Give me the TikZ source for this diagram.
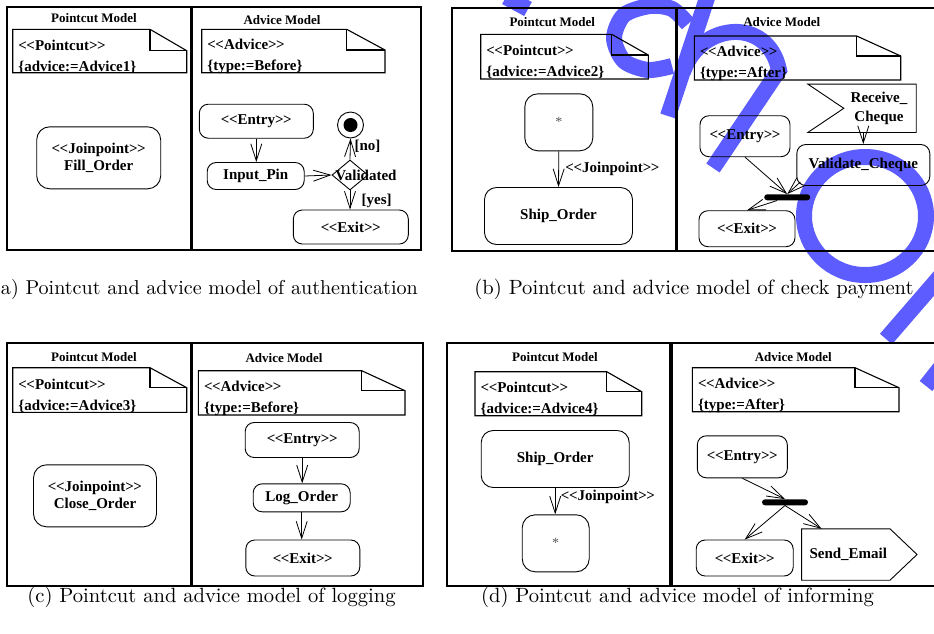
\documentclass[tikz,border=0pt]{standalone}
\usepackage{fontspec}
\newfontfamily\tfnt{Liberation Serif}
\newfontfamily\capfnt{lmroman10-regular.otf}
\usetikzlibrary{arrows.meta,shapes.geometric}
\definecolor{wm}{RGB}{92,92,255}
\newcommand\LLt{<\kern-0.5pt<}
\newcommand\GGt{>\kern-0.5pt>}
\newcommand\bodyfont{\tfnt\bfseries\fontsize{15}{17}\selectfont}
\newcommand\titlefont{\tfnt\bfseries\fontsize{13}{15}\selectfont}
\newcommand\notefont{\tfnt\bfseries\fontsize{15}{21}\selectfont}
\newcommand\capfont{\capfnt\fontsize{20.6}{24}\selectfont}
\newcommand\starfont{\tfnt\fontsize{14}{14}\selectfont\color{black!65}}
\newcommand\umlnote[8]{%
  \draw[noteline] (#2,#3) -- (#6,#3) -- (#4,#7) -- (#4,#5) -- (#2,#5) -- cycle;
  \draw[noteline] (#6,#3) -- (#6,#7) -- (#4,#7);
  \node[notetext] (#1) at ({#2+5.5},{(#3+#5)/2+5.5}) {#8};
}
\begin{document}
\begin{tikzpicture}[x=1pt,y=-1pt,
  rnode/.style={draw, line width=0.9pt, rounded corners=9pt, font=\bodyfont, align=center, inner sep=0pt},
  jnode/.style={rnode, rounded corners=13pt},
  frame/.style={draw, line width=1.5pt},
  arr/.style={line width=0.8pt, -{Straight Barb[length=17pt,width=11pt]}},
  lbl/.style={font=\bodyfont, inner sep=0pt},
  ttl/.style={font=\titlefont, inner sep=0pt},
  notetext/.style={font=\notefont, align=left, inner sep=0pt, anchor=west},
  noteline/.style={line width=1.1pt, line join=miter},
  joinbar/.style={fill=black, rounded corners=3pt, minimum width=46pt, minimum height=6pt, inner sep=0pt},
  captxt/.style={font=\capfont, inner sep=0pt},
  wmark/.style={draw=wm, line width=16pt}]
\useasboundingbox (0,0) rectangle (934,633);

% watermark (under everything)
\begin{scope}[wmark]
\draw plot[smooth] coordinates {(688,24) (672,9) (650,6) (624,15) (614,38) (624,61) (648,70) (672,66)};
\draw (709,-8) -- (668,116);
\draw (683,72) .. controls (700,22) and (768,16) .. (779,70) -- (713,168);
\draw (865,216) ellipse [x radius=61, y radius=59];
\draw (886,339) -- (950,265);
\draw (506,-3) -- (528,9);
\draw (926,386) -- (945,362);
\end{scope}

% ---------- panel (a)
\draw[frame] (7,7) rectangle (191,250);
\draw[frame] (192,7) rectangle (421,250);
\node[ttl] (ta1) at (94,18.5) {Pointcut Model};
\node[ttl] (ta2) at (282,20) {Advice Model};
\umlnote{na1}{12.7}{29.3}{186.7}{72.7}{150}{50.7}{\LLt Pointcut\GGt\\\{advice:=Advice1\}}
\umlnote{na2}{201.7}{29.3}{385}{72.7}{346.7}{50}{\LLt Advice\GGt\\\{type:=Before\}}
\node[jnode, minimum width=124pt, minimum height=62pt] (jpa) at (98.7,157.8) {\LLt Joinpoint\GGt\\Fill\_Order};
\node[rnode, minimum width=114pt, minimum height=34pt] (ena) at (256.3,121.2) {\LLt Entry\GGt};
\node[rnode, minimum width=97pt, minimum height=27pt] (pina) at (255.7,176) {Input\_Pin};
\node[rnode, minimum width=115pt, minimum height=34pt] (exa) at (350.8,227) {\LLt Exit\GGt};
\node[draw, diamond, line width=0.9pt, minimum width=36pt, minimum height=30pt, inner sep=0pt] (deca) at (350,175) {};
\node[lbl] (vala) at (366,175) {Validated};
\node[draw, circle, line width=0.9pt, minimum size=26pt, inner sep=0pt] (fina) at (350.5,125) {};
\node[circle, fill, minimum size=14pt, inner sep=0pt] (finia) at (fina.center) {};
\draw[arr] (ena.south) -- (ena.south |- pina.north);
\draw[arr] (pina.east) -- (deca.west);
\draw[arr] (deca.north) -- (fina.south);
\draw[arr] (deca.south) -- (deca.south |- exa.north);
\node[lbl] (noa) at (367.5,146.7) {[no]};
\node[lbl] (yesa) at (376.7,200.7) {[yes]};
\node[captxt, anchor=east, font=\capfnt\fontsize{20.1}{24}\selectfont] (capa) at (418,289.5) {(a) Pointcut and advice model of authentication};

% ---------- panel (b)
\draw[frame] (452,8) rectangle (676,251);
\draw[frame] (677,8) rectangle (945,251);
\node[ttl] (tb1) at (552.3,21.7) {Pointcut Model};
\node[ttl] (tb2) at (781.7,21.7) {Advice Model};
\umlnote{nb1}{480.7}{34.3}{648.3}{79}{611.7}{55}{\LLt Pointcut\GGt\\\{advice:=Advice2\}}
\umlnote{nb2}{694.3}{36}{900.7}{80}{856.7}{56}{\LLt Advice\GGt\\\{type:=After\}}
\node[jnode, minimum width=68pt, minimum height=57pt, font=\starfont] (stb) at (558.8,122.3) {*};
\node[rnode, rounded corners=12pt, minimum width=148pt, minimum height=57pt] (shb) at (558.5,216) {Ship\_Order};
\draw[arr] (stb.south) -- (shb.north);
\node[lbl] (jlb) at (612.5,169.3) {\LLt Joinpoint\GGt};
\node[rnode, minimum width=90pt, minimum height=41pt] (enb) at (745,136.2) {\LLt Entry\GGt};
\node[rnode, minimum width=133pt, minimum height=41pt] (vcb) at (863.3,165) {Validate\_Cheque};
\node[font=\tfnt\bfseries\fontsize{15}{18.3}\selectfont, align=center, inner sep=0pt, minimum width=74pt, minimum height=48pt] (rcb) at (879,108.3) {Receive\_\\Cheque};
\draw[line width=0.9pt] ([xshift=-34pt]rcb.north west) -- (rcb.north east) -- (rcb.south east) -- ([xshift=-34pt]rcb.south west) -- ([xshift=2pt]rcb.west) -- cycle;
\draw[arr] (vcb.north |- rcb.south) -- (vcb.north);
\node[joinbar] (barb) at (787.2,197.3) {};
\draw[arr] (enb.south) -- (barb.north);
\draw[arr] ([xshift=4pt,yshift=4pt]vcb.south west) -- (barb.north);
\node[rnode, minimum width=96pt, minimum height=36pt] (exb) at (747,228.7) {\LLt Exit\GGt};
\draw[arr] ([xshift=-10pt]barb.south) -- (exb.north);
\node[captxt] (capb) at (694,289.5) {(b) Pointcut and advice model of check payment};

% ---------- panel (c)
\draw[frame] (7,343) rectangle (191,586);
\draw[frame] (192,343) rectangle (423,586);
\node[ttl] (tc1) at (94,356.7) {Pointcut Model};
\node[ttl] (tc2) at (284,358.3) {Advice Model};
\umlnote{nc1}{12.7}{367.7}{186.7}{412.3}{150}{387.7}{\LLt Pointcut\GGt\\\{advice:=Advice3\}}
\umlnote{nc2}{198.3}{370.7}{405}{415}{361.7}{390.7}{\LLt Advice\GGt\\\{type:=Before\}}
\node[jnode, minimum width=123pt, minimum height=62pt] (jpc) at (95,495.8) {\LLt Joinpoint\GGt\\Close\_Order};
\node[rnode, minimum width=114pt, minimum height=35pt] (enc) at (302.2,440) {\LLt Entry\GGt};
\node[rnode, minimum width=97pt, minimum height=28pt] (logc) at (301.7,497.8) {Log\_Order};
\node[rnode, minimum width=114pt, minimum height=36pt] (exc) at (302.8,558) {\LLt Exit\GGt};
\draw[arr] (enc.south) -- (enc.south |- logc.north);
\draw[arr] (logc.south) -- (logc.south |- exc.north);
\node[captxt] (capc) at (211.5,597.5) {(c) Pointcut and advice model of logging};

% ---------- panel (d)
\draw[frame] (447,343) rectangle (670,586);
\draw[frame] (672,343) rectangle (945,586);
\node[ttl] (td1) at (555,356.7) {Pointcut Model};
\node[ttl] (td2) at (793.3,357.3) {Advice Model};
\umlnote{nd1}{475}{371.7}{641.7}{415.7}{606.7}{391.7}{\LLt Pointcut\GGt\\\{advice:=Advice4\}}
\umlnote{nd2}{692.3}{367.7}{899}{411.7}{855}{387.7}{\LLt Advice\GGt\\\{type:=After\}}
\node[rnode, rounded corners=12pt, minimum width=148pt, minimum height=57pt] (shd) at (555.2,459) {Ship\_Order};
\node[jnode, minimum width=67pt, minimum height=57pt, font=\starfont] (std) at (555.7,543.3) {*};
\draw[arr] (shd.south) -- (shd.south |- std.north);
\node[lbl] (jld) at (608,496.7) {\LLt Joinpoint\GGt};
\node[rnode, minimum width=90pt, minimum height=42pt] (ende) at (742.3,456.8) {\LLt Entry\GGt};
\node[joinbar] (bard) at (785,502.3) {};
\node[rnode, minimum width=97pt, minimum height=36pt] (exd) at (744.7,558) {\LLt Exit\GGt};
\node[font=\bodyfont, inner sep=0pt, minimum width=93pt, minimum height=51pt] (sed) at (848.3,554.5) {Send\_Email};
\draw[line width=0.9pt] (sed.north west) -- ([xshift=-5pt]sed.north east) -- ([xshift=22pt]sed.east) -- ([xshift=-5pt]sed.south east) -- (sed.south west) -- cycle;
\draw[arr] (ende.south) -- (bard.north);
\draw[arr] (bard.south) -- (exd.north);
\draw[arr] (bard.south) -- ([xshift=20pt]sed.north west);
\node[captxt] (capd) at (677.5,597.5) {(d) Pointcut and advice model of informing};
\end{tikzpicture}
\end{document}
